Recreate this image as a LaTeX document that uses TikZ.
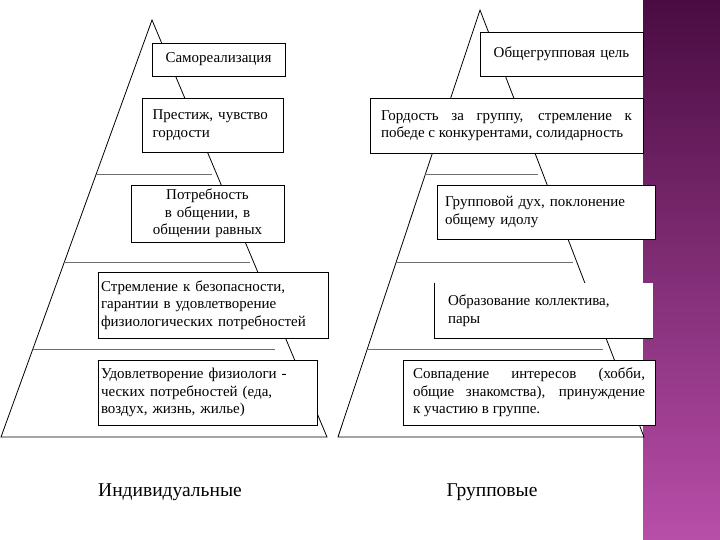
\documentclass[tikz,border=0pt]{standalone}
\usepackage{fontspec}
\setmainfont{Liberation Serif}
\usetikzlibrary{calc}
\definecolor{StripTop}{HTML}{4A0C42}
\definecolor{StripBottom}{HTML}{B84EA9}
\definecolor{LevelGray}{HTML}{6E6E6E}

\begin{document}
\begin{tikzpicture}[
  x=1pt, y=-1pt,
  box/.style={draw=black, line width=0.8pt, fill=white, inner xsep=0pt, inner ysep=0pt, align=left, font=\fontsize{15}{17.5}\selectfont},
  openbox/.style={box, draw=none},
  edge/.style={draw=black, line width=0.8pt},
  level/.style={draw=LevelGray, line width=0.8pt},
  caption/.style={font=\fontsize{19.5}{22}\selectfont}
]
  \useasboundingbox (0,0) rectangle (720,540);
  \fill[white] (0,0) rectangle (720,540);
  \shade[top color=StripTop, bottom color=StripBottom] (643,0) rectangle (720,540);

  % pyramid outlines
  \coordinate (lapex) at (152,20);
  \coordinate (lbl) at (1,437);
  \coordinate (lbr) at (327,437);
  \coordinate (rapex) at (480,10);
  \coordinate (rbl) at (338,437);
  \coordinate (rbr) at (644,437);
  \draw[edge] (lapex) -- (lbl) -- (lbr) -- cycle;
  \draw[edge] (rapex) -- (rbl) -- (rbr) -- cycle;

  % levels
  \draw[level] (96,174) -- (212,174);
  \draw[level] (64,262) -- (250,262);
  \draw[level] (33,349) -- (275,349);
  \draw[level] (425,174) -- (538,174);
  \draw[level] (396,262) -- (573,262);
  \draw[level] (367,349) -- (603,349);

  % individual needs
  \node[box, minimum width=133pt, minimum height=33pt, text width=120pt, align=center] (self) at (218.5,59.5) {Самореализация};
  \node[box, minimum width=141pt, minimum height=54pt, text width=120pt] (prestige) at (212.5,125) {Престиж, чувство\\гордости};
  \node[box, minimum width=153pt, minimum height=57pt, text width=145pt, align=center] (contact) at (207.5,213.5) {Потребность\\в общении, в\\общении равных};
  \node[box, minimum width=230pt, minimum height=66pt, text width=224pt] (safety) at (213,305) {Стремление к безопасности,\\гарантии в удовлетворение\\физиологических потребностей};
  \node[box, minimum width=219pt, minimum height=65pt, text width=213pt] (physio) at (207.5,392.5) {Удовлетворение физиологи -\\ческих потребностей (еда,\\воздух, жизнь, жилье)};

  % group needs
  \node[box, minimum width=163pt, minimum height=44pt, text width=150pt, align=center] (goal) at (561.5,54) {Общегрупповая цель};
  \node[box, minimum width=273pt, minimum height=55pt, text width=251pt, align=justify] (pride) at (506.5,125.5) {Гордость за группу, стремление к\linebreak победе с конкурентами, солидарность};
  \node[box, minimum width=218pt, minimum height=54pt, text width=202pt] (spirit) at (546,212) {Групповой дух, поклонение\\общему идолу};
  \node[openbox, minimum width=218pt, minimum height=55pt, text width=192pt] (collective) at (544,310.5) {Образование коллектива,\\пары};
  \draw[edge] (collective.north west) -- (collective.south west) -- (collective.south east);
  \node[box, minimum width=252pt, minimum height=65pt, text width=232pt, align=justify] (interests) at (529,392.5) {Совпадение интересов (хобби,\linebreak общие знакомства), принуждение\linebreak к участию в группе.};

  % captions
  \node[caption] (indiv) at (170,492) {Индивидуальные};
  \node[caption] (group) at (492,492) {Групповые};
\end{tikzpicture}
\end{document}
